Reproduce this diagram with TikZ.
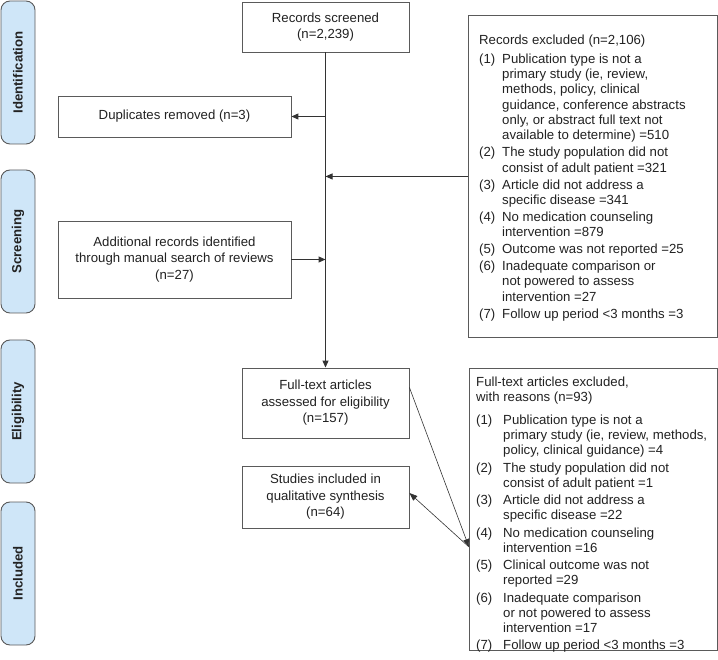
\documentclass[tikz,border=0pt]{standalone}
\usepackage{fontspec}
\setmainfont{Liberation Sans}
\usetikzlibrary{arrows.meta,calc}
\definecolor{bordergrey}{HTML}{5A5A5A}
\definecolor{txt}{HTML}{222222}
\definecolor{linecol}{HTML}{333333}
\definecolor{sidefill}{HTML}{CFE6F8}
\begin{document}
\begin{tikzpicture}[x=1pt,y=-1pt,
  font=\fontsize{13.2}{16.5}\selectfont, text=txt,
  box/.style={draw=bordergrey, line width=0.9pt, fill=white, inner sep=0pt, align=center},
  sidebox/.style={draw=bordergrey, line width=0.9pt, fill=sidefill, rounded corners=9pt,
    minimum width=143pt, minimum height=34pt, rotate=90, inner sep=0pt,
    font=\bfseries\fontsize{13.2}{16}\selectfont},
  arr/.style={draw=linecol, line width=1pt, -{Triangle[length=7pt,width=6pt]}},
  thinarr/.style={draw=linecol, line width=0.6pt, -{Triangle[length=8pt,width=6pt]}},
  listtext/.style={anchor=north west, inner sep=0pt, align=left}
]
\useasboundingbox (0,0) rectangle (718,660);

% side labels
\node[sidebox] (sid) at (18,72.5) {Identification};
\node[sidebox] (ssc) at (18,241.5) {Screening};
\node[sidebox] (sel) at (18,411.5) {Eligibility};
\node[sidebox] (sin) at (18,573.5) {Included};

% main boxes
\node[box, minimum width=167pt, minimum height=50pt] (rs) at (325.5,27) {Records screened\\(n=2,239)};
\node[box, minimum width=233pt, minimum height=41pt] (dup) at (174.5,116.5) {Duplicates removed (n=3)};
\node[box, minimum width=233pt, minimum height=77pt] (add) at (174.5,259.5) {Additional records identified\\through manual search of reviews\\(n=27)};
\node[box, minimum width=167pt, minimum height=70pt] (ft) at (325.5,403) {Full-text articles\\assessed for eligibility\\(n=157)};
\node[box, minimum width=167pt, minimum height=62pt] (st) at (325.5,497) {Studies included in\\qualitative synthesis\\(n=64)};

\node[box, anchor=north west, minimum width=249pt, minimum height=322pt] (ex1) at (468,15) {};
\node[box, anchor=north west, minimum width=248pt, minimum height=282pt] (ex2) at (469,368) {};

\node[listtext] (ex1t) at ($(ex1.north west)+(11,18.5)$) {\fontsize{13.2}{15.3}\selectfont
\begin{tabular}{@{}p{23pt}@{}l@{}}
\multicolumn{2}{@{}l@{}}{Records excluded (n=2,106)}\\[3.5pt]
(1) & Publication type is not a\\
    & primary study (ie, review,\\
    & methods, policy, clinical\\
    & guidance, conference abstracts\\
    & only, or abstract full text not\\
    & available to determine) =510\\[1.7pt]
(2) & The study population did not\\
    & consist of adult patient =321\\[1.7pt]
(3) & Article did not address a\\
    & specific disease =341\\[1.7pt]
(4) & No medication counseling\\
    & intervention =879\\[1.7pt]
(5) & Outcome was not reported =25\\[1.7pt]
(6) & Inadequate comparison or\\
    & not powered to assess\\
    & intervention =27\\[1.7pt]
(7) & Follow up period <3 months =3
\end{tabular}};

\node[listtext] (ex2t) at ($(ex2.north west)+(7,8)$) {\fontsize{13.2}{15}\selectfont
\begin{tabular}{@{}p{27pt}@{}l@{}}
\multicolumn{2}{@{}l@{}}{Full-text articles excluded,}\\
\multicolumn{2}{@{}l@{}}{with reasons (n=93)}\\[8pt]
(1) & Publication type is not a\\
    & primary study (ie, review, methods,\\
    & policy, clinical guidance) =4\\[2.5pt]
(2) & The study population did not\\
    & consist of adult patient =1\\[2.5pt]
(3) & Article did not address a\\
    & specific disease =22\\[2.5pt]
(4) & No medication counseling\\
    & intervention =16\\[2.5pt]
(5) & Clinical outcome was not\\
    & reported =29\\[2.5pt]
(6) & Inadequate comparison\\
    & or not powered to assess\\
    & intervention =17\\[2.5pt]
(7) & Follow up period <3 months =3
\end{tabular}};

% connectors
\draw[arr] (rs.south) -- (ft.north);
\draw[arr] (rs.south |- dup.east) -- (dup.east);
\draw[arr] (ex1.west) -- (ex1.west -| rs.south);
\draw[arr] (add.east) -- (add.east -| rs.south);

\coordinate (tip) at ($(ex2.north west)+(0,179)$);
\draw[thinarr] ($(ft.north east)+(0,20)$) -- (tip);
\draw[thinarr] (tip) -- ($(st.east)+(0,-4)$);
\end{tikzpicture}
\end{document}
